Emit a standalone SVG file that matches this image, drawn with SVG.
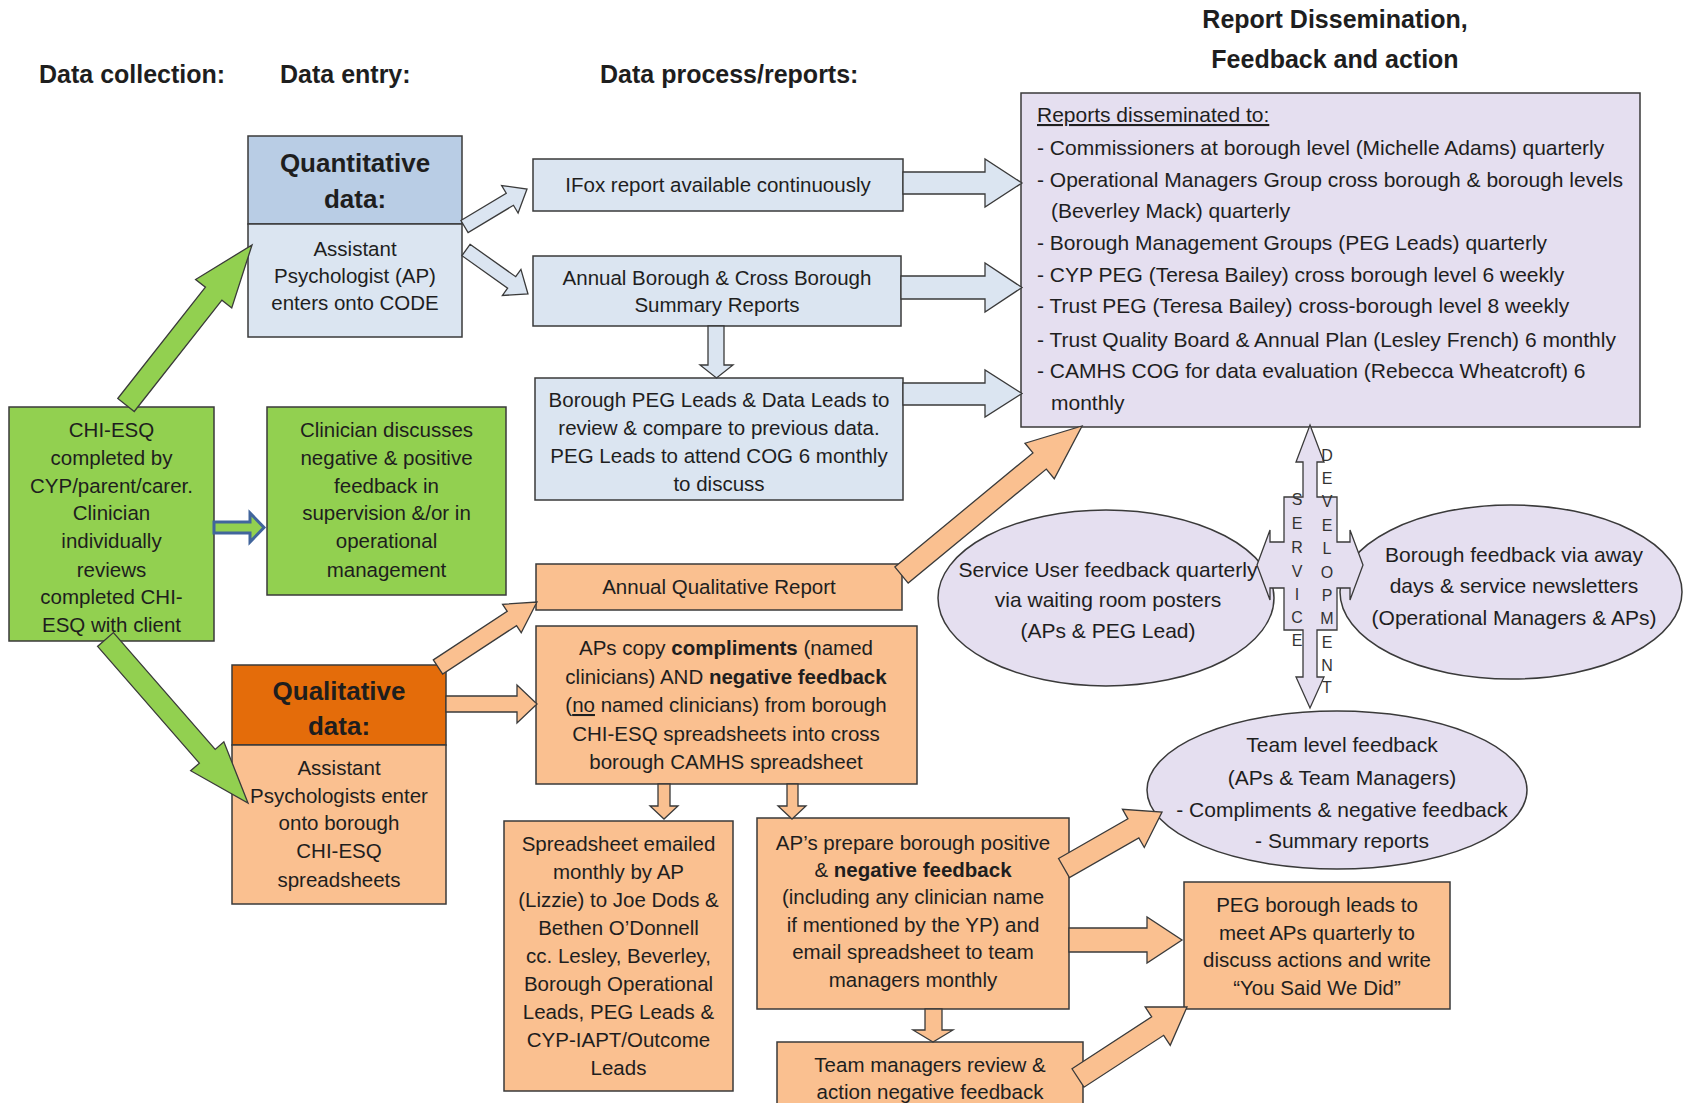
<svg xmlns="http://www.w3.org/2000/svg" width="1684" height="1103" viewBox="0 0 1684 1103">
<style>
text{font-family:"Liberation Sans",Arial,sans-serif;fill:#1e1e1e}
.h{font-size:25px;font-weight:bold}
.hd{font-size:26px;font-weight:bold;text-anchor:middle}
.t{font-size:20.5px;text-anchor:middle}
.p{font-size:21px}
.e{font-size:21px;text-anchor:middle}
.l{font-size:16px;text-anchor:middle;fill:#333}
.b{stroke:#3a3a3a;stroke-width:1.5}
.blue1{fill:#b9cde5}
.blue2{fill:#dbe5f1}
.grn{fill:#92d050}
.or1{fill:#e46c0a}
.or2{fill:#fac090}
.pur{fill:#e5dff0}
.ab{fill:#dbe5f1;stroke:#3a3a3a;stroke-width:1.3}
.ao{fill:#fac090;stroke:#3a3a3a;stroke-width:1.3}
.ag{fill:#92d050;stroke:#3a3a3a;stroke-width:1.3}
.ap{fill:#e5dff0;stroke:#3a3a3a;stroke-width:1.3}
</style>
<rect width="1684" height="1103" fill="#ffffff"/>

<g id="titles">
<text class="h" x="39" y="83">Data collection:</text>
<text class="h" x="280" y="83">Data entry:</text>
<text class="h" x="600" y="83">Data process/reports:</text>
<text class="h" x="1335" y="28" text-anchor="middle">Report Dissemination,</text>
<text class="h" x="1335" y="68" text-anchor="middle">Feedback and action</text>
</g>

<g id="quantitative">
<rect class="b blue1" x="248" y="136" width="214" height="88"/>
<rect class="b blue2" x="248" y="224" width="214" height="113"/>
<text class="hd" x="355" y="172">Quantitative</text>
<text class="hd" x="355" y="208">data:</text>
<text class="t" x="355" y="256">Assistant</text>
<text class="t" x="355" y="283">Psychologist (AP)</text>
<text class="t" x="355" y="310">enters onto CODE</text>
</g>

<g id="ifox">
<rect class="b blue2" x="533" y="159" width="370" height="52"/>
<text class="t" x="718" y="192">IFox report available continuously</text>
</g>

<g id="annual-borough">
<rect class="b blue2" x="533" y="256" width="368" height="70"/>
<text class="t" x="717" y="285">Annual Borough &amp; Cross Borough</text>
<text class="t" x="717" y="312">Summary Reports</text>
</g>

<g id="borough-peg">
<rect class="b blue2" x="535" y="378" width="368" height="122"/>
<text class="t" x="719" y="407">Borough PEG Leads &amp; Data Leads to</text>
<text class="t" x="719" y="435">review &amp; compare to previous data.</text>
<text class="t" x="719" y="463">PEG Leads to attend COG 6 monthly</text>
<text class="t" x="719" y="491">to discuss</text>
</g>

<g id="reports-disseminated">
<rect class="b pur" x="1021" y="93" width="619" height="334"/>
<text class="p" x="1037" y="122" text-decoration="underline">Reports disseminated to:</text>
<text class="p" x="1037" y="155">- Commissioners at borough level (Michelle Adams) quarterly</text>
<text class="p" x="1037" y="187">- Operational Managers Group cross borough &amp; borough levels</text>
<text class="p" x="1051" y="218">(Beverley Mack) quarterly</text>
<text class="p" x="1037" y="250">- Borough Management Groups (PEG Leads) quarterly</text>
<text class="p" x="1037" y="282">- CYP PEG (Teresa Bailey) cross borough level 6 weekly</text>
<text class="p" x="1037" y="313">- Trust PEG (Teresa Bailey) cross-borough level 8 weekly</text>
<text class="p" x="1037" y="347">- Trust Quality Board &amp; Annual Plan (Lesley French) 6 monthly</text>
<text class="p" x="1037" y="378">- CAMHS COG for data evaluation (Rebecca Wheatcroft) 6</text>
<text class="p" x="1051" y="410">monthly</text>
</g>

<g id="chi-esq">
<rect class="b grn" x="9" y="407" width="205" height="234"/>
<text class="t" x="111.5" y="437">CHI-ESQ</text>
<text class="t" x="111.5" y="465">completed by</text>
<text class="t" x="111.5" y="493">CYP/parent/carer.</text>
<text class="t" x="111.5" y="520">Clinician</text>
<text class="t" x="111.5" y="548">individually</text>
<text class="t" x="111.5" y="577">reviews</text>
<text class="t" x="111.5" y="604">completed CHI-</text>
<text class="t" x="111.5" y="632">ESQ with client</text>
</g>

<g id="clinician">
<rect class="b grn" x="267" y="407" width="239" height="188"/>
<text class="t" x="386.5" y="437">Clinician discusses</text>
<text class="t" x="386.5" y="465">negative &amp; positive</text>
<text class="t" x="386.5" y="493">feedback in</text>
<text class="t" x="386.5" y="520">supervision &amp;/or in</text>
<text class="t" x="386.5" y="548">operational</text>
<text class="t" x="386.5" y="577">management</text>
</g>

<g id="qualitative">
<rect class="b or1" x="232" y="665" width="214" height="80"/>
<rect class="b or2" x="232" y="745" width="214" height="159"/>
<text class="hd" x="339" y="700">Qualitative</text>
<text class="hd" x="339" y="735">data:</text>
<text class="t" x="339" y="775">Assistant</text>
<text class="t" x="339" y="803">Psychologists enter</text>
<text class="t" x="339" y="830">onto borough</text>
<text class="t" x="339" y="858">CHI-ESQ</text>
<text class="t" x="339" y="887">spreadsheets</text>
</g>

<g id="annual-qualitative">
<rect class="b or2" x="536" y="564" width="366" height="46"/>
<text class="t" x="719" y="594">Annual Qualitative Report</text>
</g>

<g id="aps-copy">
<rect class="b or2" x="536" y="626" width="381" height="158"/>
<text class="t" x="726" y="655">APs copy <tspan font-weight="bold">compliments</tspan> (named</text>
<text class="t" x="726" y="684">clinicians) AND <tspan font-weight="bold">negative feedback</tspan></text>
<text class="t" x="726" y="712">(<tspan text-decoration="underline">no</tspan> named clinicians) from borough</text>
<text class="t" x="726" y="741">CHI-ESQ spreadsheets into cross</text>
<text class="t" x="726" y="769">borough CAMHS spreadsheet</text>
</g>

<g id="spreadsheet-emailed">
<rect class="b or2" x="504" y="821" width="229" height="270"/>
<text class="t" x="618.5" y="851">Spreadsheet emailed</text>
<text class="t" x="618.5" y="879">monthly by AP</text>
<text class="t" x="618.5" y="907">(Lizzie) to Joe Dods &amp;</text>
<text class="t" x="618.5" y="935">Bethen O’Donnell</text>
<text class="t" x="618.5" y="963">cc. Lesley, Beverley,</text>
<text class="t" x="618.5" y="991">Borough Operational</text>
<text class="t" x="618.5" y="1019">Leads, PEG Leads &amp;</text>
<text class="t" x="618.5" y="1047">CYP-IAPT/Outcome</text>
<text class="t" x="618.5" y="1075">Leads</text>
</g>

<g id="aps-prepare">
<rect class="b or2" x="757" y="818" width="312" height="191"/>
<text class="t" x="913" y="850">AP’s prepare borough positive</text>
<text class="t" x="913" y="877">&amp; <tspan font-weight="bold">negative feedback</tspan></text>
<text class="t" x="913" y="904">(including any clinician name</text>
<text class="t" x="913" y="932">if mentioned by the YP) and</text>
<text class="t" x="913" y="959">email spreadsheet to team</text>
<text class="t" x="913" y="987">managers monthly</text>
</g>

<g id="team-managers">
<rect class="b or2" x="777" y="1042" width="306" height="75"/>
<text class="t" x="930" y="1072">Team managers review &amp;</text>
<text class="t" x="930" y="1099">action negative feedback</text>
</g>

<g id="peg-borough-leads">
<rect class="b or2" x="1184" y="882" width="266" height="127"/>
<text class="t" x="1317" y="912">PEG borough leads to</text>
<text class="t" x="1317" y="940">meet APs quarterly to</text>
<text class="t" x="1317" y="967">discuss actions and write</text>
<text class="t" x="1317" y="995">“You Said We Did”</text>
</g>

<g id="service-user">
<ellipse class="b pur" cx="1106" cy="598" rx="168" ry="88"/>
<text class="e" x="1108" y="577">Service User feedback quarterly</text>
<text class="e" x="1108" y="607">via waiting room posters</text>
<text class="e" x="1108" y="638">(APs &amp; PEG Lead)</text>
</g>

<g id="borough-feedback">
<ellipse class="b pur" cx="1511" cy="592" rx="171" ry="87"/>
<text class="e" x="1514" y="562">Borough feedback via away</text>
<text class="e" x="1514" y="593">days &amp; service newsletters</text>
<text class="e" x="1514" y="625">(Operational Managers &amp; APs)</text>
</g>

<g id="team-level">
<ellipse class="b pur" cx="1337" cy="790" rx="190" ry="79"/>
<text class="e" x="1342" y="752">Team level feedback</text>
<text class="e" x="1342" y="785">(APs &amp; Team Managers)</text>
<text class="e" x="1342" y="817">- Compliments &amp; negative feedback</text>
<text class="e" x="1342" y="848">- Summary reports</text>
</g>

<g id="connectors">
<path class="ag" d="M0,-10.5 H141.7 V-23 L203.7,0 L141.7,23 V10.5 H0 Z" transform="translate(126,405) rotate(-51.78)"/>
<path class="ag" d="M0,-10.5 H154.9 V-22 L216.9,0 L154.9,22 V10.5 H0 Z" transform="translate(105.5,639.5) rotate(48.93)"/>
<path d="M214,522 H250 V513 L264,527.5 L250,542 V533 H214 Z" fill="#92d050" stroke="#41659c" stroke-width="3"/>
<path class="ab" d="M0,-7 H52.9 V-16 L72.9,0 L52.9,16 V7 H0 Z" transform="translate(464.5,226.5) rotate(-30.96)"/>
<path class="ab" d="M0,-7 H56 V-16 L76,0 L56,16 V7 H0 Z" transform="translate(466,250) rotate(35.36)"/>
<path class="ab" d="M903,172 H985 V159 L1022,183 L985,207 V194 H903 Z"/>
<path class="ab" d="M901,276 H985 V263 L1022,287.5 L985,312 V299 H901 Z"/>
<path class="ab" d="M903,383 H985 V370 L1022,393.5 L985,417 V405 H903 Z"/>
<path class="ab" d="M708,326 V365 H700 L716.5,378 L733,365 H724 V326 Z"/>
<path class="ao" d="M0,-8.5 H88.4 V-17 L118.4,0 L88.4,17 V8.5 H0 Z" transform="translate(438,667) rotate(-33.29)"/>
<path class="ao" d="M446,696 H517 V685 L537,704 L517,723 V712 H446 Z"/>
<path class="ao" d="M0,-10.5 H179.1 V-23 L234.1,0 L179.1,23 V10.5 H0 Z" transform="translate(901.5,575) rotate(-39.54)"/>
<path class="ao" d="M658,784 V806 H650 L664,819 L678,806 H670 V784 Z"/>
<path class="ao" d="M787,784 V806 H778 L792,819 L806,806 H798 V784 Z"/>
<path class="ao" d="M925,1009 V1030 H913 L933,1042 L953,1030 H942 V1009 Z"/>
<path class="ao" d="M1069,928 H1147 V917 L1182,940 L1147,963 V952 H1069 Z"/>
<path class="ao" d="M0,-11 H79.9 V-22 L112.9,0 L79.9,22 V11 H0 Z" transform="translate(1064,868) rotate(-29.74)"/>
<path class="ao" d="M0,-11 H95.1 V-23 L130.1,0 L95.1,23 V11 H0 Z" transform="translate(1078,1078) rotate(-33.08)"/>
<path class="ap" d="M1310,425 L1324,462 H1317 V497 H1337 V542 H1350 V530 L1363,565 L1350,600 V588 H1337 V630 H1317 V677 H1324 L1310,708 L1296,677 H1303 V630 H1284 V588 H1270 V600 L1257,565 L1270,530 V542 H1284 V497 H1303 V462 H1296 Z"/>
<text class="l"><tspan x="1297" y="505">S</tspan><tspan x="1297" y="529">E</tspan><tspan x="1297" y="553">R</tspan><tspan x="1297" y="577">V</tspan><tspan x="1297" y="600">I</tspan><tspan x="1297" y="623">C</tspan><tspan x="1297" y="646">E</tspan></text>
<text class="l"><tspan x="1327" y="461">D</tspan><tspan x="1327" y="484">E</tspan><tspan x="1327" y="507">V</tspan><tspan x="1327" y="531">E</tspan><tspan x="1327" y="554">L</tspan><tspan x="1327" y="578">O</tspan><tspan x="1327" y="601">P</tspan><tspan x="1327" y="624">M</tspan><tspan x="1327" y="648">E</tspan><tspan x="1327" y="671">N</tspan><tspan x="1327" y="693">T</tspan></text>
</g>
</svg>
